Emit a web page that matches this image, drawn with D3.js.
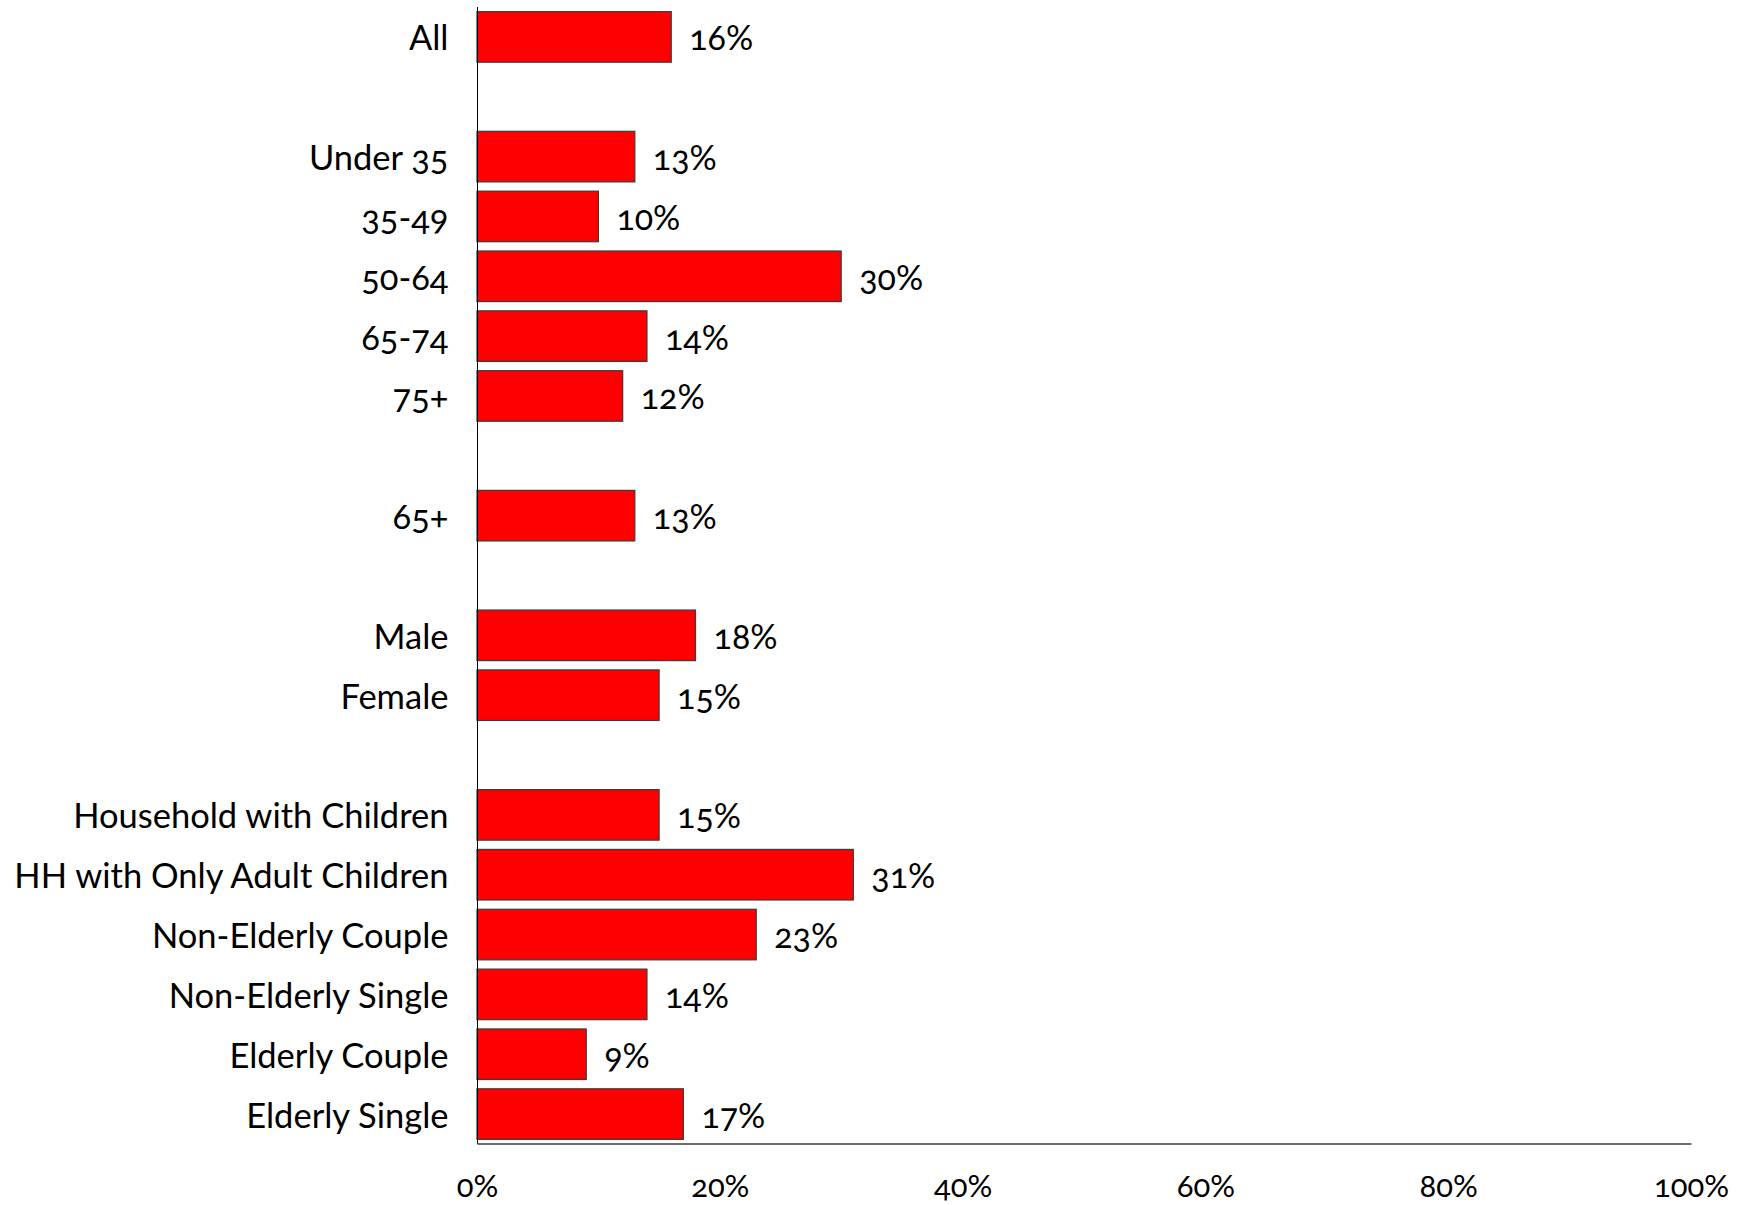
<!DOCTYPE html>
<html>
<head>
<meta charset="utf-8">
<script src="https://cdn.jsdelivr.net/npm/d3@7"></script>
<style>
  html, body { margin: 0; padding: 0; background: #ffffff; }
  svg { display: block; }
  text { font-family: Lato, "Open Sans", "DejaVu Sans", sans-serif; fill: #000; font-variant-numeric: oldstyle-nums; font-feature-settings: "onum" 1; }
</style>
</head>
<body>
<svg id="chart" width="1752" height="1205"></svg>
<script>
// Category rows (null = blank spacer row between groups)
const categories = ["All", null, "Under 35", "35-49", "50-64", "65-74", "75+", null, "65+", null,
  "Male", "Female", null, "Household with Children", "HH with Only Adult Children",
  "Non-Elderly Couple", "Non-Elderly Single", "Elderly Couple", "Elderly Single"];
// Percent values per row
const values = [16, null, 13, 10, 30, 14, 12, null, 13, null,
  18, 15, null, 15, 31, 23, 14, 9, 17];
// X axis ticks
const xTicks = [0, 20, 40, 60, 80, 100];

const svg = d3.select("#chart");
const rows = categories.map((c, i) => ({ key: "r" + i, label: c, value: values[i] }));

const x = d3.scaleLinear().domain([0, 100]).range([477, 1691]);
const y = d3.scaleBand().domain(rows.map(r => r.key)).range([7, 1144])
  .paddingInner(0.155).paddingOuter(0.0775);

const catFont = 34.5, valFont = 34, tickFont = 31;

// bars
const dataRows = rows.filter(r => r.value !== null);
svg.append("g").selectAll("rect").data(dataRows).join("rect")
  .attr("x", x(0))
  .attr("y", d => y(d.key))
  .attr("width", d => x(d.value) - x(0))
  .attr("height", y.bandwidth())
  .attr("fill", "#ff0000")
  .attr("stroke", "#3a3a3a")
  .attr("stroke-width", 1.2);

// category labels
svg.append("g").selectAll("text").data(rows.filter(r => r.label)).join("text")
  .attr("x", 448.5)
  .attr("y", d => y(d.key) + y.bandwidth() / 2)
  .attr("text-anchor", "end")
  .attr("dominant-baseline", "central")
  .style("font-size", catFont + "px")
  .text(d => d.label);

// value labels
svg.append("g").selectAll("text").data(dataRows).join("text")
  .attr("x", d => x(d.value) + 18)
  .attr("y", d => y(d.key) + y.bandwidth() / 2)
  .attr("text-anchor", "start")
  .attr("dominant-baseline", "central")
  .style("font-size", valFont + "px")
  .text(d => d.value + "%");

// vertical axis line
svg.append("line")
  .attr("x1", x(0) + 0.5).attr("x2", x(0) + 0.5)
  .attr("y1", 7).attr("y2", 1144)
  .attr("stroke", "#000").attr("stroke-width", 1);

// bottom axis (no tick marks)
const xAxis = d3.axisBottom(x).tickValues(xTicks).tickSize(0).tickPadding(0)
  .tickFormat(d => d + "%");
const gx = svg.append("g").attr("transform", "translate(0,1143.5)").call(xAxis);
gx.select(".domain").attr("stroke", "#6e6e6e").attr("stroke-width", 2);
gx.selectAll(".tick text")
  .attr("y", 41)
  .attr("dy", null)
  .attr("dominant-baseline", "central")
  .style("font-size", tickFont + "px")
  .style("font-family", "Lato, 'Open Sans', sans-serif")
  .attr("fill", "#000");
</script>
</body>
</html>
